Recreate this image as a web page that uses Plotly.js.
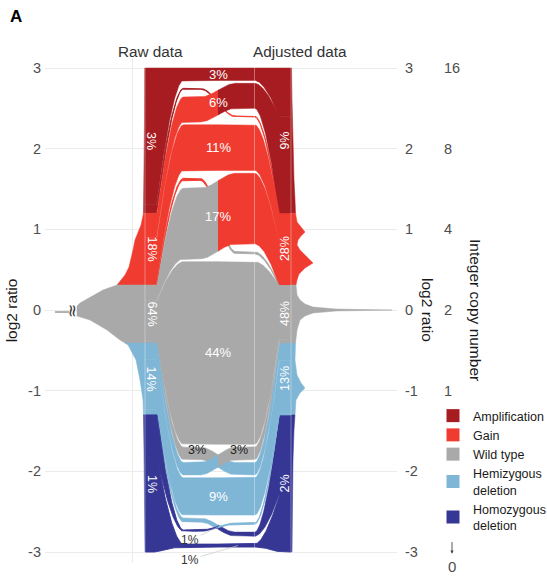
<!DOCTYPE html>
<html>
<head>
<meta charset="utf-8">
<script src="https://cdn.plot.ly/plotly-3.0.1.min.js"></script>
<style>
html,body{margin:0;padding:0;background:#ffffff;}
#chart{width:547px;height:576px;}
</style>
</head>
<body>
<div id="chart"></div>
<script>
// ---------------- data ----------------
const categories = ['Amplification', 'Gain', 'Wild type', 'Hemizygous deletion', 'Homozygous deletion'];
const legendNames = ['Amplification', 'Gain', 'Wild type', 'Hemizygous<br>deletion', 'Homozygous<br>deletion'];
const categoryColors = ['#A61C20', '#F03C30', '#A9A9A9', '#7FB6D6', '#363795'];

// log2-ratio cut-offs separating the classes (top to bottom)
const classCutoffs = [1.2, 0.31, -0.41, -1.3];

// class shares (%)
const rawPercent = [3, 18, 64, 14, 1];
const adjustedPercent = [9, 28, 48, 13, 2];

// transitions raw -> adjusted (indices into categories), share in %
const flowFrom    = [0, 0,   1, 1,  1,   2,  2,  2, 3, 3, 3, 4,   4];
const flowTo      = [0, 1,   0, 1,  2,   1,  2,  3, 2, 3, 4, 3,   4];
const flowPercent = [3, 0.2, 6, 11, 0.5, 17, 44, 3, 3, 9, 1, 0.3, 0.7];
const flowLabels  = ['3%', '', '6%', '11%', '', '17%', '44%', '3%', '3%', '9%', '1%', '', '1%'];

// segment density of log2 ratios, raw data (left, peak truncated)
const rawDensityY = [3.0, 2.355, 1.612, 1.2, 1.054, 0.967, 0.868, 0.744, 0.62, 0.533, 0.434, 0.372, 0.31, 0.248, 0.161, 0.087, 0.05, 0, -0.074, -0.124, -0.186, -0.248, -0.372, -0.41, -0.434, -0.62, -0.868, -1.116, -1.3, -1.735, -2.355, -3.0];
const rawDensity  = [0.3, 0.5, 1, 1.5, 4, 7, 10, 12, 14, 16, 20, 24, 28, 42, 55, 65, 68, 68, 68, 55, 46, 38, 25, 20, 17, 9, 5, 2, 1.5, 1, 0.7, 0.3];
// segment density, adjusted data (right)
const adjDensityY = [3.0, 2.603, 1.983, 1.612, 1.364, 1.2, 1.091, 1.016, 0.967, 0.917, 0.868, 0.806, 0.744, 0.669, 0.583, 0.521, 0.446, 0.372, 0.31, 0.186, 0.124, 0.074, 0.037, 0.012, 0, -0.012, -0.037, -0.074, -0.124, -0.248, -0.41, -0.62, -0.806, -0.905, -0.967, -1.029, -1.116, -1.3, -1.488, -1.859, -2.355, -3.0];
const adjDensity  = [0.5, 1, 2, 3, 4, 4.5, 6, 11, 14, 10, 7, 6, 9, 15, 22, 14, 8, 6, 5, 6, 9, 14, 22, 45, 101, 45, 22, 14, 9, 6, 4.5, 4, 6, 10, 14, 9, 5, 4, 3, 2, 1.5, 1];

const log2Ticks = [3, 2, 1, 0, -1, -2, -3];
const log2TickText = ['3', '2', '1', '0', '-1', '-2', '-3'];
const copyNumberTicks = [3, 2, 1, 0, -1];
const copyNumberText = ['16', '8', '4', '2', '1'];

// ---------------- layout constants ----------------
const FONT = "'Liberation Sans', Arial, Helvetica, sans-serif";
const Y_MIN = -3.136, Y_MAX = 3.124, Y_TOP = 3, Y_BOT = -3;
const PX_PER_LOG2 = 80.67;
const X_RAW = 100, XS_L = 112, X_LMID = 138, X_CROSS0 = 155, X_SPLIT = 173,
      X_CROSS1 = 191, X_RMID = 210, XS_R = 234, X_ADJ = 246;
const CURVE_POW = 1.7;
const MID_SCALE = 4.15 / PX_PER_LOG2;
const TINY_PCT = 0.8, TINY_PAD = 5 / PX_PER_LOG2;
const DENSITY_CLIP = 68;

const nCat = categories.length;
const nFlow = flowPercent.length;
const bounds = [Y_TOP].concat(classCutoffs).concat([Y_BOT]);

// ---------------- stacking ----------------
const rawTop = [], rawBot = [], adjTop = [], adjBot = [], lTop = [], lBot = [], rTop = [], rBot = [];
const idxAll = [...Array(nFlow).keys()];
for (let c = 0; c < nCat; c++) {
  const h = bounds[c] - bounds[c + 1];
  const a = idxAll.filter(i => flowFrom[i] === c).sort((p, q) => flowTo[p] - flowTo[q]);
  const ta = a.reduce((s, i) => s + flowPercent[i], 0);
  let y = bounds[c];
  a.forEach(i => { rawTop[i] = y; y -= h * flowPercent[i] / ta; rawBot[i] = y; });
  const b = idxAll.filter(i => flowTo[i] === c).sort((p, q) => flowFrom[p] - flowFrom[q]);
  const tb = b.reduce((s, i) => s + flowPercent[i], 0);
  y = bounds[c];
  b.forEach(i => { adjTop[i] = y; y -= h * flowPercent[i] / tb; adjBot[i] = y; });
}
const totalPct = flowPercent.reduce((s, v) => s + v, 0);
const nTiny = flowPercent.filter(v => v < TINY_PCT).length;
const midGap = ((Y_TOP - Y_BOT) - totalPct * MID_SCALE - 2 * TINY_PAD * nTiny) / (nFlow - 1);
const leftOrder = idxAll.slice().sort((p, q) => (flowFrom[p] - flowFrom[q]) || (flowTo[p] - flowTo[q]));
const rightOrder = idxAll.slice().sort((p, q) => (flowTo[p] - flowTo[q]) || (flowFrom[p] - flowFrom[q]));
function stackMid(order, topArr, botArr) {
  let y = Y_TOP;
  order.forEach(i => {
    const tiny = flowPercent[i] < TINY_PCT;
    if (tiny) y -= TINY_PAD;
    topArr[i] = y; y -= flowPercent[i] * MID_SCALE; botArr[i] = y;
    if (tiny) y -= TINY_PAD;
    y -= midGap;
  });
}
stackMid(leftOrder, lTop, lBot);
stackMid(rightOrder, rTop, rBot);

function flowY(x, yRaw, yL, yR, yAdj) {
  if (x <= XS_L) return yRaw;
  if (x < X_LMID) { const u = (x - XS_L) / (X_LMID - XS_L); return yRaw + (yL - yRaw) * (1 - Math.pow(1 - u, CURVE_POW)); }
  if (x <= X_CROSS0) return yL;
  if (x < X_CROSS1) { const s = (x - X_CROSS0) / (X_CROSS1 - X_CROSS0); return yL + (yR - yL) * (1 - Math.cos(Math.PI * s)) / 2; }
  if (x <= X_RMID) return yR;
  if (x < XS_R) { const u = (XS_R - x) / (XS_R - X_RMID); return yAdj + (yR - yAdj) * (1 - Math.pow(1 - u, CURVE_POW)); }
  return yAdj;
}
function range(a, b, step) { const out = []; for (let x = a; x < b - 1e-9; x += step) out.push(x); out.push(b); return out; }

const traces = [];

// ---------------- densities ----------------
function interpAt(ys, ds, t) {
  for (let k = 0; k < ys.length - 1; k++) {
    const a = ys[k], b = ys[k + 1];
    if (a >= t && b <= t) { const f = a === b ? 0 : (a - t) / (a - b); return ds[k] + (ds[k + 1] - ds[k]) * f; }
  }
  return 0;
}
function densityTrace(ys, ds, c, side) {
  const hi = bounds[c], lo = bounds[c + 1];
  const sy = [hi], sd = [interpAt(ys, ds, hi)];
  ys.forEach((y, k) => { if (y < hi && y > lo) { sy.push(y); sd.push(ds[k]); } });
  sy.push(lo); sd.push(interpAt(ys, ds, lo));
  const base = side < 0 ? X_RAW : X_ADJ;
  const xs = [base].concat(sd.map(d => base + side * Math.min(d, side < 0 ? DENSITY_CLIP : 1e9))).concat([base]);
  const yv = [hi].concat(sy).concat([lo]);
  return { type: 'scatter', mode: 'lines', x: xs, y: yv, fill: 'toself', fillcolor: categoryColors[c],
           line: { width: 0.5, color: categoryColors[c] }, hoverinfo: 'skip', showlegend: false };
}
for (let c = 0; c < nCat; c++) {
  traces.push(densityTrace(rawDensityY, rawDensity, c, -1));
  traces.push(densityTrace(adjDensityY, adjDensity, c, 1));
}

// ---------------- flows ----------------
const xsLeft = range(X_RAW, X_SPLIT, 0.5);
const xsRight = range(X_SPLIT, X_ADJ, 0.5);
for (let i = 0; i < nFlow; i++) {
  [[xsLeft, flowFrom[i]], [xsRight, flowTo[i]]].forEach(([xs, c]) => {
    const top = xs.map(x => flowY(x, rawTop[i], lTop[i], rTop[i], adjTop[i]));
    const bot = xs.map(x => flowY(x, rawBot[i], lBot[i], rBot[i], adjBot[i]));
    traces.push({
      type: 'scatter', mode: 'lines',
      x: xs.concat(xs.slice().reverse()), y: top.concat(bot.slice().reverse()),
      fill: 'toself', fillcolor: categoryColors[c],
      line: { width: flowPercent[i] < TINY_PCT ? 0.9 : 0.5, color: categoryColors[c] },
      hoverinfo: 'skip', showlegend: false
    });
  });
}

// axis-break mark continuation line
traces.push({ type: 'scatter', mode: 'lines', x: [X_RAW - DENSITY_CLIP - 22, X_RAW - DENSITY_CLIP - 8], y: [-0.025, -0.025],
  line: { color: '#555555', width: 0.9 }, hoverinfo: 'skip', showlegend: false });

// legend entries
for (let c = 0; c < nCat; c++) {
  traces.push({ type: 'scatter', mode: 'markers', x: [null], y: [null], name: legendNames[c],
    marker: { symbol: 'square', size: 13, color: categoryColors[c] }, showlegend: true });
}
// dummies for extra axes
traces.push({ type: 'scatter', mode: 'markers', x: [null], y: [null], yaxis: 'y2', showlegend: false, hoverinfo: 'skip' });
traces.push({ type: 'scatter', mode: 'markers', x: [null], y: [null], yaxis: 'y3', showlegend: false, hoverinfo: 'skip' });

// ---------------- annotations ----------------
const ann = [];
ann.push({ xref: 'paper', yref: 'paper', x: (16 - 45) / 502, y: 1 + (58 - 17) / 505, text: '<b>A</b>', showarrow: false,
  font: { family: FONT, size: 17, color: '#000' }, xanchor: 'center', yanchor: 'middle' });
ann.push({ xref: 'x', yref: 'paper', x: 105, y: 1 + 6 / 505, text: 'Raw data', showarrow: false,
  font: { family: FONT, size: 15.3, color: '#333' }, xanchor: 'center', yanchor: 'middle' });
ann.push({ xref: 'x', yref: 'paper', x: 255, y: 1 + 6 / 505, text: 'Adjusted data', showarrow: false,
  font: { family: FONT, size: 15.3, color: '#333' }, xanchor: 'center', yanchor: 'middle' });
ann.push({ xref: 'paper', yref: 'y', x: (428 - 45) / 502, y: 0, text: 'log2 ratio', textangle: 90, showarrow: false,
  xanchor: 'center', yanchor: 'middle', font: { family: FONT, size: 15.5, color: '#1a1a1a' } });
ann.push({ xref: 'paper', yref: 'y', x: (476 - 45) / 502, y: 0, text: 'Integer copy number', textangle: 90, showarrow: false,
  xanchor: 'center', yanchor: 'middle', font: { family: FONT, size: 15.5, color: '#1a1a1a' } });
// copy number 0 at -infinity
ann.push({ xref: 'paper', yref: 'y', x: (452 - 45) / 502, y: -3.02, ax: 0, ay: -13, text: '', showarrow: true,
  arrowhead: 2, arrowsize: 0.7, arrowwidth: 0.9, arrowcolor: '#444' });
ann.push({ xref: 'paper', yref: 'paper', x: (452 - 45) / 502, y: 1 - (566 - 58) / 505, text: '0', showarrow: false,
  xanchor: 'center', yanchor: 'middle', font: { family: FONT, size: 15, color: '#4D4D4D' } });
// axis break mark
ann.push({ xref: 'x', yref: 'y', x: X_RAW - DENSITY_CLIP - 4, y: -0.01, text: '≈', textangle: 90, showarrow: false,
  xanchor: 'center', yanchor: 'middle', font: { family: 'DejaVu Sans', size: 17, color: '#333' } });

// stratum labels
for (let c = 0; c < nCat; c++) {
  const yc = (bounds[c] + bounds[c + 1]) / 2;
  ann.push({ x: (X_RAW + XS_L) / 2 + 0.5, y: yc, text: rawPercent[c] + '%', textangle: 90, showarrow: false,
    xanchor: 'center', yanchor: 'middle', font: { family: FONT, size: 12.5, color: '#ffffff' } });
  ann.push({ x: (XS_R + X_ADJ) / 2, y: yc, text: adjustedPercent[c] + '%', textangle: -90, showarrow: false,
    xanchor: 'center', yanchor: 'middle', font: { family: FONT, size: 12.5, color: '#ffffff' } });
}
// flow labels
for (let i = 0; i < nFlow; i++) {
  if (!flowLabels[i]) continue;
  const lc = (lTop[i] + lBot[i]) / 2, rc = (rTop[i] + rBot[i]) / 2;
  const h = flowPercent[i] * MID_SCALE;
  if (flowPercent[i] < 2) {
    const crossing = Math.abs(lc - rc) > h;
    const tx = X_SPLIT + (crossing ? 0 : 20);
    const ty = crossing ? (lc + rc) / 2 : rc;
    const textY = crossing ? (lc + rc) / 2 - 13 / PX_PER_LOG2 : rc - 14 / PX_PER_LOG2;
    ann.push({ x: tx, y: ty, ax: 145, ay: textY, axref: 'x', ayref: 'y', text: flowLabels[i],
      xanchor: 'center', yanchor: 'middle',
      showarrow: true, arrowhead: 0, arrowwidth: 0.7, arrowcolor: '#c8c8c8', standoff: 0,
      font: { family: FONT, size: 12, color: '#333' } });
  } else if (Math.abs(lc - rc) > h * 0.9) {
    const leftSide = lc > rc;
    ann.push({ x: leftSide ? X_SPLIT - 21 : X_SPLIT + 21, y: (leftSide ? lc : rc) + 3 / PX_PER_LOG2, text: flowLabels[i],
      showarrow: false, xanchor: 'center', yanchor: 'middle', font: { family: FONT, size: 12.5, color: '#222' } });
  } else {
    ann.push({ x: X_SPLIT, y: (lc + rc) / 2, text: flowLabels[i], showarrow: false,
      xanchor: 'center', yanchor: 'middle', font: { family: FONT, size: 13, color: '#ffffff' } });
  }
}

// ---------------- layout ----------------
const shapes = [X_RAW, 209.5, X_ADJ].map(x => ({ type: 'line', xref: 'x', yref: 'y', x0: x, x1: x, y0: Y_MIN, y1: Y_MAX,
  line: { color: 'rgba(255,255,255,0.35)', width: 1 }, layer: 'above' }));

const layout = {
  width: 547, height: 576,
  margin: { l: 45, r: 0, t: 58, b: 13, pad: 0, autoexpand: false },
  paper_bgcolor: '#ffffff', plot_bgcolor: '#ffffff',
  font: { family: FONT, color: '#1a1a1a' },
  showlegend: true,
  legend: { x: (433 - 45) / 502, y: 1 - (401 - 58) / 505, xanchor: 'left', yanchor: 'top',
    font: { family: FONT, size: 12.5, color: '#1a1a1a' }, bgcolor: 'rgba(0,0,0,0)', itemwidth: 30, tracegroupgap: 0 },
  xaxis: { domain: [0, 352 / 502], range: [0, 352], tickvals: [0.3, 87, 351.7], ticktext: ['', '', ''],
    showgrid: true, gridcolor: '#EBEBEB', gridwidth: 1, zeroline: false, showline: false, ticks: '', fixedrange: true,
    automargin: false },
  yaxis: { range: [Y_MIN, Y_MAX], tickvals: log2Ticks, ticktext: log2TickText,
    tickfont: { family: FONT, size: 14.5, color: '#4D4D4D' }, gridcolor: '#EBEBEB', gridwidth: 1,
    zeroline: false, showline: false, ticks: '', ticklabelstandoff: 3, automargin: false,
    title: { text: 'log2 ratio', font: { family: FONT, size: 15.5, color: '#1a1a1a' }, standoff: 6 } },
  yaxis2: { overlaying: 'y', side: 'right', anchor: 'x', range: [Y_MIN, Y_MAX], tickvals: log2Ticks, ticktext: log2TickText,
    tickfont: { family: FONT, size: 14.5, color: '#4D4D4D' }, showgrid: false, zeroline: false, showline: false,
    ticks: '', ticklabelstandoff: 7, automargin: false },
  yaxis3: { overlaying: 'y', side: 'right', anchor: 'free', position: (441 - 45) / 502, range: [Y_MIN, Y_MAX],
    tickvals: copyNumberTicks, ticktext: copyNumberText,
    tickfont: { family: FONT, size: 14.5, color: '#4D4D4D' }, showgrid: false, zeroline: false, showline: false,
    ticks: '', ticklabelstandoff: 2, automargin: false },
  annotations: ann,
  shapes: shapes
};

Plotly.newPlot('chart', traces, layout, { staticPlot: true, displayModeBar: false });
</script>
</body>
</html>
